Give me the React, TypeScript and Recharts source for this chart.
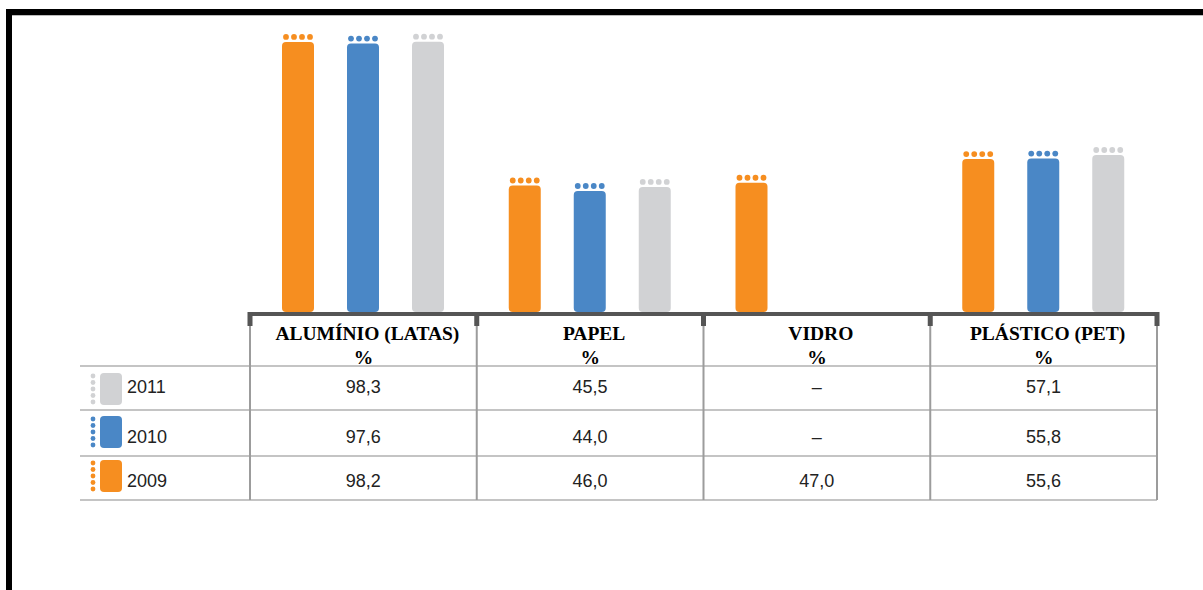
import { BarChart, Bar, XAxis, YAxis } from "recharts";

const categories = ["ALUMÍNIO (LATAS)", "PAPEL", "VIDRO", "PLÁSTICO (PET)"];
const years = ["2011", "2010", "2009"];
const values2009 = [98.2, 46.0, 47.0, 55.6];
const values2010 = [97.6, 44.0, null, 55.8];
const values2011 = [98.3, 45.5, null, 57.1];

const COLORS: Record<string, string> = {
  "2009": "#F68E20",
  "2010": "#4A87C6",
  "2011": "#D1D2D4",
};

const seriesByYear: Record<string, (number | null)[]> = {
  "2009": values2009,
  "2010": values2010,
  "2011": values2011,
};

const data = categories.map((name, i) => ({
  name,
  y2009: values2009[i],
  y2010: values2010[i],
  y2011: values2011[i],
}));

const W = 1203;
const H = 590;
const PLOT_LEFT = 250;
const PLOT_RIGHT = 1157;
const PLOT_TOP = 37;
const PLOT_BOTTOM = 312;

const fmt = (v: number | null) => (v == null ? "–" : v.toFixed(1).replace(".", ","));

function DottedBar(props: any) {
  const { x, y, width, height, fill } = props;
  if (!height || height <= 0) return null;
  const dots = [0, 1, 2, 3].map((i) => (
    <circle key={i} cx={x + width / 8 + (i * width) / 4} cy={y - 5} r={2.9} fill={fill} />
  ));
  return (
    <g>
      {dots}
      <rect x={x} y={y} width={width} height={height} rx={4} ry={4} fill={fill} />
    </g>
  );
}

function LegendIcon({ y, color }: { y: number; color: string }) {
  return (
    <g>
      {[0, 1, 2, 3, 4].map((i) => (
        <circle key={i} cx={93} cy={y + 3 + i * 6.5} r={2.4} fill={color} />
      ))}
      <rect x={100} y={y} width={22} height={32} rx={4} ry={4} fill={color} />
    </g>
  );
}

function Table() {
  const band = (PLOT_RIGHT - PLOT_LEFT) / categories.length;
  const bounds = [0, 1, 2, 3, 4].map((i) => PLOT_LEFT + i * band);
  const rowLines = [366, 410, 456, 500];
  const rowBase = [393, 443, 487];
  const rowTop = [373, 416, 460];
  return (
    <svg width={W} height={H} style={{ position: "absolute", left: 0, top: 0, pointerEvents: "none" }}>
      {/* moldura */}
      <rect x={6} y={9} width={W} height={6} fill="#000" />
      <rect x={6} y={9} width={6} height={H} fill="#000" />
      <rect x={12} y={15} width={W} height={1} fill="#bbb" />

      {rowLines.map((ly) => (
        <rect key={ly} x={80} y={ly - 1} width={1077} height={2} fill="#c4c4c4" />
      ))}
      {bounds.map((bx, i) => (
        <rect key={"v" + i} x={bx - 1} y={316} width={2} height={184} fill="#9c9c9c" />
      ))}
      <rect x={248} y={312} width={911} height={4} fill="#555" />
      {bounds.map((bx, i) => (
        <rect key={"t" + i} x={bx - 2.5} y={312} width={5} height={14} fill="#555" />
      ))}

      {categories.map((c, i) => {
        const cx = bounds[i] + band / 2;
        return (
          <g key={c} fontFamily="'Liberation Serif', 'Times New Roman', serif" fontWeight="bold" fontSize={19.5} fill="#000" textAnchor="middle">
            <text x={cx + 4} y={340}>{c}</text>
            <text x={cx} y={364}>%</text>
          </g>
        );
      })}

      {years.map((yr, r) => (
        <g key={yr}>
          <LegendIcon y={rowTop[r]} color={COLORS[yr]} />
          <text x={127} y={rowBase[r]} fontFamily="'Liberation Sans', Arial, sans-serif" fontSize={18} fill="#222">
            {yr}
          </text>
          {categories.map((c, i) => (
            <text
              key={c}
              x={bounds[i] + band / 2}
              y={rowBase[r]}
              textAnchor="middle"
              fontFamily="'Liberation Sans', Arial, sans-serif"
              fontSize={18}
              fill="#222"
            >
              {fmt(seriesByYear[yr][i])}
            </text>
          ))}
        </g>
      ))}
    </svg>
  );
}

export default function App() {
  return (
    <div style={{ position: "absolute", left: 0, top: 0, width: W, height: H, background: "#fff", overflow: "hidden" }}>
      <BarChart
        width={W}
        height={H}
        data={data}
        margin={{ left: PLOT_LEFT, right: W - PLOT_RIGHT, top: PLOT_TOP, bottom: H - PLOT_BOTTOM }}
        barSize={32}
        barGap={33}
      >
        <XAxis dataKey="name" hide />
        <YAxis hide domain={[0, 100]} />
        <Bar dataKey="y2009" fill={COLORS["2009"]} shape={<DottedBar />} isAnimationActive={false} />
        <Bar dataKey="y2010" fill={COLORS["2010"]} shape={<DottedBar />} isAnimationActive={false} />
        <Bar dataKey="y2011" fill={COLORS["2011"]} shape={<DottedBar />} isAnimationActive={false} />
      </BarChart>
      <Table />
    </div>
  );
}
